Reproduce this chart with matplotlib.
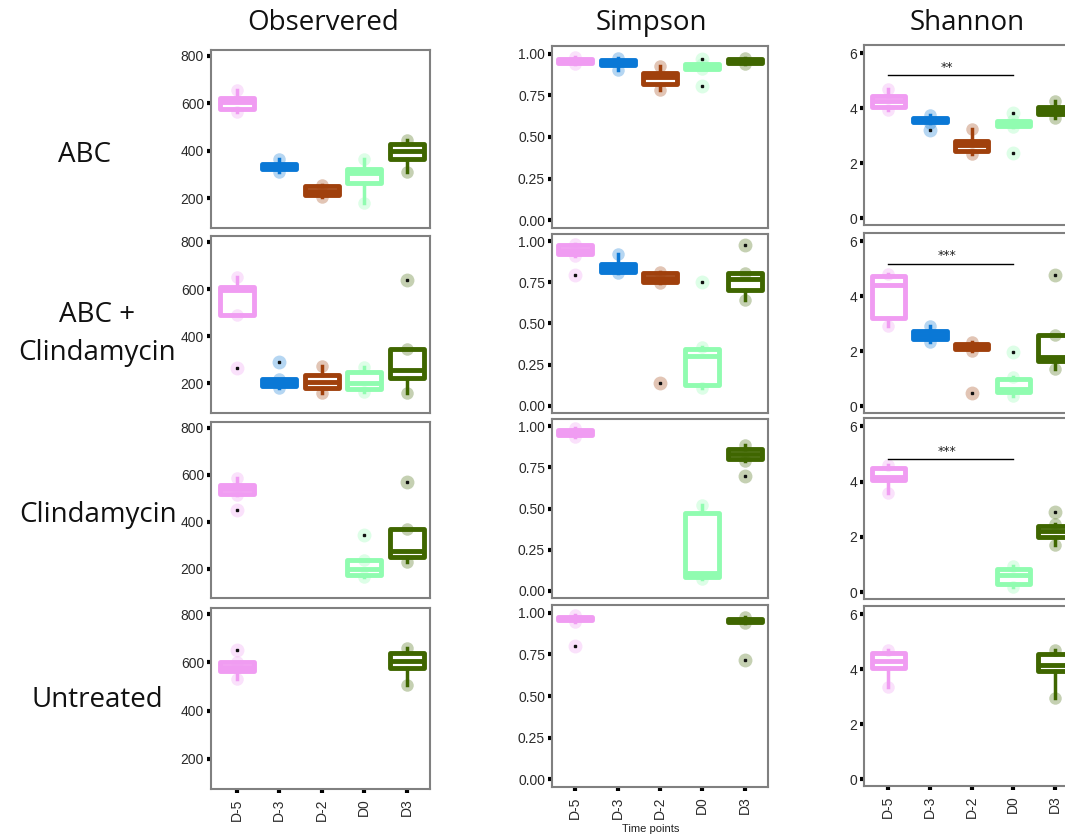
import numpy as np
import matplotlib.pyplot as plt

W, H = 1065, 838
days = ['D-5', 'D-3', 'D-2', 'D0', 'D3']
treatments = ['ABC', 'ABC +\nClindamycin', 'Clindamycin', 'Untreated']
metrics = ['Observered', 'Simpson', 'Shannon']
colors = ['#F09CF2', '#0A78D6', '#A0400C', '#90FCB0', '#3F6600']

# rows = treatments, columns = days, None = no samples
obs_q1 = [[578, 325, 215, 265, 365], [490, 188, 180, 178, 225], [520, None, None, 175, 250], [562, None, None, None, 575]]
obs_med = [[605, 335, 232, 305, 398], [595, 200, 205, 200, 258], [540, None, None, 200, 275], [580, None, None, None, 605]]
obs_q3 = [[622, 345, 250, 325, 428], [610, 218, 235, 250, 345], [555, None, None, 237, 368], [600, None, None, None, 640]]
obs_lo = [[565, 310, 205, 180, 310], [490, 183, 160, 165, 160], [515, None, None, 165, 228], [530, None, None, None, 505]]
obs_hi = [[655, 365, 258, 365, 445], [650, 218, 275, 270, 345], [585, None, None, 237, 368], [600, None, None, None, 660]]
obs_out = [[[], [], [], [], []], [[267], [289], [], [], [640]], [[448], [], [], [342], [570]], [[650], [], [], [], []]]

simp_q1 = [[0.945, 0.93, 0.82, 0.91, 0.945], [0.925, 0.815, 0.75, 0.125, 0.705], [0.945, None, None, 0.08, 0.80], [0.955, None, None, None, 0.945]]
simp_med = [[0.96, 0.945, 0.86, 0.925, 0.958], [0.945, 0.84, 0.78, 0.30, 0.77], [0.965, None, None, 0.11, 0.83], [0.965, None, None, None, 0.955]]
simp_q3 = [[0.97, 0.96, 0.885, 0.935, 0.965], [0.975, 0.865, 0.805, 0.345, 0.805], [0.98, None, None, 0.47, 0.865], [0.975, None, None, None, 0.96]]
simp_lo = [[0.94, 0.90, 0.78, 0.905, 0.935], [0.91, 0.805, 0.745, 0.11, 0.645], [0.935, None, None, 0.07, 0.79], [0.945, None, None, None, 0.935]]
simp_hi = [[0.98, 0.975, 0.925, 0.94, 0.975], [0.985, 0.925, 0.815, 0.355, 0.805], [0.99, None, None, 0.52, 0.885], [0.985, None, None, None, 0.975]]
simp_out = [[[], [], [], [0.965, 0.805], []], [[0.793], [], [0.135], [0.755], [0.98]], [[], [], [], [], [0.70]], [[0.80], [], [], [], [0.715]]]

shan_q1 = [[4.05, 3.5, 2.45, 3.35, 3.78], [3.2, 2.45, 2.07, 0.5, 1.65], [4.05, None, None, 0.3, 2.0], [4.05, None, None, None, 3.95]]
shan_med = [[4.25, 3.57, 2.65, 3.45, 3.9], [4.4, 2.6, 2.15, 0.62, 1.8], [4.18, None, None, 0.62, 2.2], [4.3, None, None, None, 4.15]]
shan_q3 = [[4.45, 3.65, 2.8, 3.55, 4.05], [4.75, 2.72, 2.25, 1.0, 2.6], [4.5, None, None, 0.85, 2.38], [4.6, None, None, None, 4.55]]
shan_lo = [[3.95, 3.45, 2.35, 3.3, 3.65], [2.9, 2.35, 2.0, 0.38, 1.35], [3.6, None, None, 0.2, 1.7], [3.35, None, None, None, 2.95]]
shan_hi = [[4.7, 3.75, 3.25, 3.57, 4.25], [4.8, 2.9, 2.32, 1.05, 2.6], [4.6, None, None, 0.95, 2.45], [4.7, None, None, None, 4.7]]
shan_out = [[[], [3.22], [], [3.83, 2.36], []], [[], [], [0.48], [1.96], [4.78]], [[], [], [], [], [2.91]], [[], [], [], [], []]]

# significance bars on Shannon (D-5 vs D0)
sig_labels = ['**', '***', '***', None]
sig_y = [5.2, 5.18, 4.8, None]

stats = [
    (obs_q1, obs_med, obs_q3, obs_lo, obs_hi, obs_out),
    (simp_q1, simp_med, simp_q3, simp_lo, simp_hi, simp_out),
    (shan_q1, shan_med, shan_q3, shan_lo, shan_hi, shan_out),
]
col_x = [(211, 430), (552, 768), (864, 1080)]
row_y = [
    [(50, 228), (236, 413), (422, 598), (608, 789)],
    [(46, 228), (234, 413), (419, 598), (605, 787)],
    [(45, 225), (233, 413), (418, 599), (606, 786)],
]
xlims = [(0.4, 5.55), (0.45, 5.55), (0.42, 5.6)]
ylims = [(75, 825), (-0.045, 1.045), (-0.25, 6.3)]
yticks = [[200, 400, 600, 800], [0, 0.25, 0.5, 0.75, 1.0], [0, 2, 4, 6]]
yfmt = ['{:.0f}', '{:.2f}', '{:.0f}']

fig = plt.figure(figsize=(W / 100, H / 100), dpi=100)

for c in range(3):
    q1s, meds, q3s, los, his, outs = stats[c]
    for r in range(4):
        x0, x1 = col_x[c]
        y0, y1 = row_y[c][r]
        ax = fig.add_axes([x0 / W, 1 - y1 / H, (x1 - x0) / W, (y1 - y0) / H])
        for i in range(5):
            col = colors[i]
            if q1s[r][i] is not None:
                st = dict(med=meds[r][i], q1=q1s[r][i], q3=q3s[r][i],
                          whislo=los[r][i], whishi=his[r][i], fliers=[])
                ax.bxp([st], positions=[i + 1], widths=0.8, showcaps=False,
                       showfliers=False, patch_artist=True,
                       boxprops=dict(facecolor='white', edgecolor=col, linewidth=3.5, joinstyle='round'),
                       medianprops=dict(color=col, linewidth=3.5),
                       whiskerprops=dict(color=col, linewidth=2.5))
                ax.plot([i + 1, i + 1], [los[r][i], his[r][i]], 'o', ms=9,
                        color=col, alpha=0.3, mec='none')
            fl = outs[r][i]
            if fl:
                ax.plot([i + 1] * len(fl), fl, 'o', ms=10, color=col, alpha=0.3, mec='none')
                ax.plot([i + 1] * len(fl), fl, 's', ms=2, color='#111111')
        if c == 2 and sig_labels[r]:
            ax.plot([1, 4], [sig_y[r], sig_y[r]], color='black', lw=1)
            ax.text(2.4, sig_y[r] + 0.05, sig_labels[r], ha='center', va='bottom',
                    fontsize=9, color='#222222')
        ax.set_xlim(*xlims[c])
        ax.set_ylim(*ylims[c])
        ax.set_yticks(yticks[c])
        ax.set_yticklabels([yfmt[c].format(v) for v in yticks[c]])
        ax.set_xticks(range(1, 6))
        if r == 3:
            ax.set_xticklabels(days, rotation=90)
            ax.tick_params(axis='x', length=3, width=3, color='black', pad=4,
                           labelsize=10, labelcolor='#2a2a2a')
        else:
            ax.set_xticklabels([])
            ax.tick_params(axis='x', length=0)
        ax.tick_params(axis='y', length=3, width=3, color='black', pad=2,
                       labelsize=10, labelcolor='#2a2a2a')
        for lab in ax.get_xticklabels() + ax.get_yticklabels():
            lab.set_family('Liberation Sans')
        for s in ax.spines.values():
            s.set_color('#808080')
            s.set_linewidth(1.5)

title_x = [323, 651, 967]
for c in range(3):
    fig.text(title_x[c] / W, 1 - 23 / H, metrics[c], ha='center', va='center',
             fontsize=20, family='Open Sans', color='#111111')

row_lab_pos = [(85, 155), (97, 334), (98, 515), (97, 700)]
for r in range(4):
    x, y = row_lab_pos[r]
    fig.text(x / W, 1 - y / H, treatments[r], ha='center', va='center',
             fontsize=20, family='Open Sans', color='#111111', linespacing=1.5)

fig.text(651 / W, 1 - 829 / H, 'Time points', ha='center', va='center',
         fontsize=8, family='Liberation Sans', color='#222222')

plt.savefig('out.png', dpi=100)
